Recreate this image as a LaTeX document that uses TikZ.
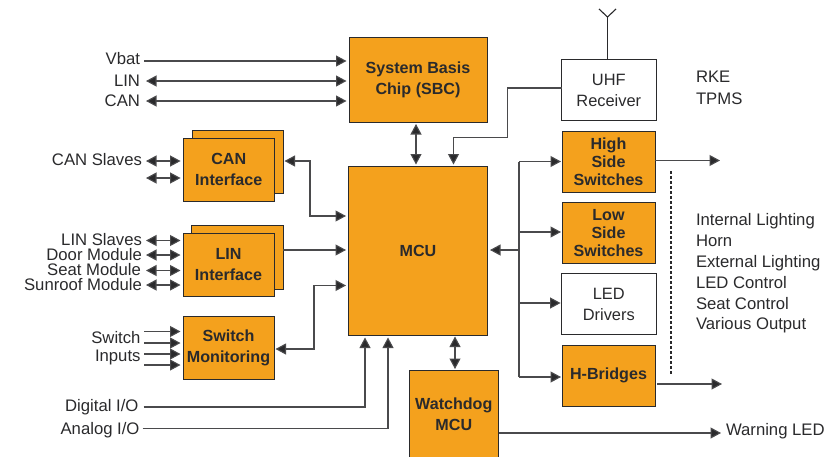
\documentclass[tikz,border=0pt]{standalone}
\usepackage{fontspec}
\setmainfont{Liberation Sans}
\usetikzlibrary{arrows.meta}
\definecolor{orangebox}{HTML}{F4A11D}
\definecolor{ink}{HTML}{2A2A2C}
\tikzset{
  x=1pt,y=-1pt,
  box/.style={draw=ink,line width=1pt,outer sep=0pt,inner sep=0pt,align=center,text=ink,font=\fontsize{16.1}{20.8}\selectfont\bfseries},
  obox/.style={box,fill=orangebox},
  wbox/.style={box,fill=white,font=\fontsize{16.4}{20.8}\selectfont},
  tight/.style={font=\fontsize{16.1}{18}\selectfont\bfseries},
  lab/.style={inner sep=0pt,outer sep=0pt,text=ink,font=\fontsize{16.7}{17}\selectfont},
  rlab/.style={lab,anchor=base east},
  llab/.style={lab,anchor=base west},
  conn/.style={draw=ink!85!white,line width=1.1pt},
  oneway/.style={conn,-{Triangle[length=10.5pt,width=11pt,fill=ink]}},
  twoway/.style={conn,{Triangle[length=10.5pt,width=11pt,fill=ink]}-{Triangle[length=10.5pt,width=11pt,fill=ink]}},
  tobox/.style={shorten >=2.5pt},
  frombox/.style={shorten <=2.5pt}
}
\begin{document}
\begin{tikzpicture}
\useasboundingbox (0,0) rectangle (838,456);
% boxes
\node[obox,minimum width=138pt,minimum height=85pt] (sbc) at (418,80) {System Basis\\Chip (SBC)};
\node[obox,minimum width=139pt,minimum height=169pt] (mcu) at (418,250.5) {MCU};
\node[obox,minimum width=91pt,minimum height=62.5pt] (canb) at (237.5,161.8) {};
\node[obox,minimum width=91.5pt,minimum height=63pt] (can) at (228.8,169.5) {CAN\\Interface};
\node[obox,minimum width=92pt,minimum height=64pt] (linb) at (237,257) {};
\node[obox,minimum width=91pt,minimum height=63pt] (lin) at (228.5,264.5) {LIN\\Interface};
\node[obox,minimum width=91pt,minimum height=62.5pt] (swm) at (228.5,347.8) {Switch\\Monitoring};
\node[wbox,minimum width=94.5pt,minimum height=61.5pt] (uhf) at (608.8,90.2) {UHF\\Receiver};
\node[obox,tight,minimum width=93pt,minimum height=60.5pt] (high) at (608.5,161.8) {High\\Side\\Switches};
\node[obox,tight,minimum width=93pt,minimum height=60.5pt] (low) at (608.5,232.8) {Low\\Side\\Switches};
\node[wbox,minimum width=94.5pt,minimum height=61.5pt] (led) at (608.8,304.2) {LED\\Drivers};
\node[obox,minimum width=93pt,minimum height=60.5pt] (hbr) at (608.5,375.8) {H-Bridges};
\node[obox,minimum width=89.5pt,minimum height=88pt] (wd) at (453.8,414) {Watchdog\\MCU};
% labels
\node[rlab] (vbat) at (140,64.5) {Vbat};
\node[rlab] (linl) at (140,86) {LIN};
\node[rlab] (canl) at (140,106.5) {CAN};
\node[rlab] (cans) at (142,165) {CAN Slaves};
\node[rlab] (lins) at (142,245.3) {LIN Slaves};
\node[rlab] (door) at (142,260) {Door Module};
\node[rlab] (seat) at (141,275) {Seat Module};
\node[rlab] (sun) at (142,290) {Sunroof Module};
\node[rlab] (swi) at (140.5,343) {Switch};
\node[rlab] (inp) at (140.5,361.3) {Inputs};
\node[rlab] (dig) at (138.5,411.3) {Digital I/O};
\node[rlab] (ana) at (139.5,434) {Analog I/O};
\node[llab] (rke) at (696,82.7) {RKE};
\node[llab] (tpms) at (696,104) {TPMS};
\node[llab] (l1) at (696,225) {Internal Lighting};
\node[llab] (l2) at (696,246) {Horn};
\node[llab] (l3) at (696,267.3) {External Lighting};
\node[llab] (l4) at (696,288) {LED Control};
\node[llab] (l5) at (696,309) {Seat Control};
\node[llab] (l6) at (696,329) {Various Output};
\node[llab] (warn) at (726,435.7) {Warning LED};
% free ends
\coordinate (a1) at (144,61);
\coordinate (a2) at (146,81);
\coordinate (a3) at (146,101);
\coordinate (c1) at (146,161);
\coordinate (c2) at (146,178);
\coordinate (n1) at (146,240.5);
\coordinate (n2) at (146,255);
\coordinate (n3) at (146,270.5);
\coordinate (n4) at (146,285);
\coordinate (s1) at (144,331.5);
\coordinate (s2) at (144,343);
\coordinate (s3) at (144,354);
\coordinate (s4) at (144,365);
\coordinate (hout) at (720,160.5);
\coordinate (bout) at (722,384);
\coordinate (wout) at (721,433);
\coordinate (ant) at (607.5,17);
\coordinate (antl) at (599,9);
\coordinate (antr) at (616,9);
\coordinate (dots1) at (671,171);
\coordinate (dots2) at (671,374);
\coordinate (bus) at (519,250);
\coordinate (bh) at (519,161.5);
\coordinate (bl) at (519,232);
\coordinate (bd) at (519,303);
\coordinate (bb) at (519,377);
% connectors
\draw[oneway,tobox] (a1) -- (sbc.west |- a1);
\draw[twoway,tobox] (a2) -- (sbc.west |- a2);
\draw[twoway,tobox] (a3) -- (sbc.west |- a3);
\draw[twoway,tobox] (c1) -- (can.west |- c1);
\draw[twoway,tobox] (c2) -- (can.west |- c2);
\draw[twoway,tobox] (n1) -- (lin.west |- n1);
\draw[twoway,tobox] (n2) -- (lin.west |- n2);
\draw[twoway,tobox] (n3) -- (lin.west |- n3);
\draw[twoway,tobox] (n4) -- (lin.west |- n4);
\draw[oneway,tobox] (s1) -- (swm.west |- s1);
\draw[oneway,tobox] (s2) -- (swm.west |- s2);
\draw[oneway,tobox] (s3) -- (swm.west |- s3);
\draw[oneway,tobox] (s4) -- (swm.west |- s4);
\draw[twoway,shorten <=1.5pt,tobox] (canb.east |- 0,161) -- (310,161) -- (310,216) -- (mcu.west |- 0,216);
\draw[oneway,tobox] (linb.east |- 0,250) -- (mcu.west |- 0,250);
\draw[twoway,shorten <=1.5pt,tobox] (swm.east |- 0,349) -- (314,349) -- (314,285.5) -- (mcu.west |- 0,285.5);
\draw[oneway] (dig.east |- 0,407) ++(5,0) -- (365,407) -- (365,337.5);
\draw[oneway] (ana.east |- 0,428.5) ++(3,0) -- (388,428.5) -- (388,337.5);
\draw[twoway,shorten <=1.5pt,shorten >=1.5pt] (sbc.south -| 416,0) -- (mcu.north -| 416,0);
\draw[twoway,shorten <=1.5pt,shorten >=1pt] (mcu.south -| 455,0) -- (wd.north -| 455,0);
\draw[oneway,shorten >=1.5pt] (uhf.west |- 0,88) -- (507.5,88) -- (507.5,137.5) -- (453.5,137.5) -- (mcu.north -| 453.5,0);
\draw[conn,draw=ink] (uhf.north -| ant) -- (ant);
\draw[conn,draw=ink] (antl) -- (ant) -- (antr);
\draw[oneway,tobox] (bus) -- (mcu.east |- bus);
\draw[conn] (bh) -- (bb);
\draw[oneway,shorten >=1pt] (bh) -- (high.west |- bh);
\draw[oneway,shorten >=1pt] (bl) -- (low.west |- bl);
\draw[oneway,shorten >=1pt] (bd) -- (led.west |- bd);
\draw[oneway,shorten >=1pt] (bb) -- (hbr.west |- bb);
\draw[oneway] (high.east |- hout) -- (hout);
\draw[oneway,shorten <=2pt] (hbr.east |- bout) -- (bout);
\draw[oneway] (wd.east |- wout) -- (wout);
\draw[draw=ink,line width=1.1pt,dash pattern=on 2.5pt off 2.5pt] (dots1) -- (dots2);
\end{tikzpicture}
\end{document}
